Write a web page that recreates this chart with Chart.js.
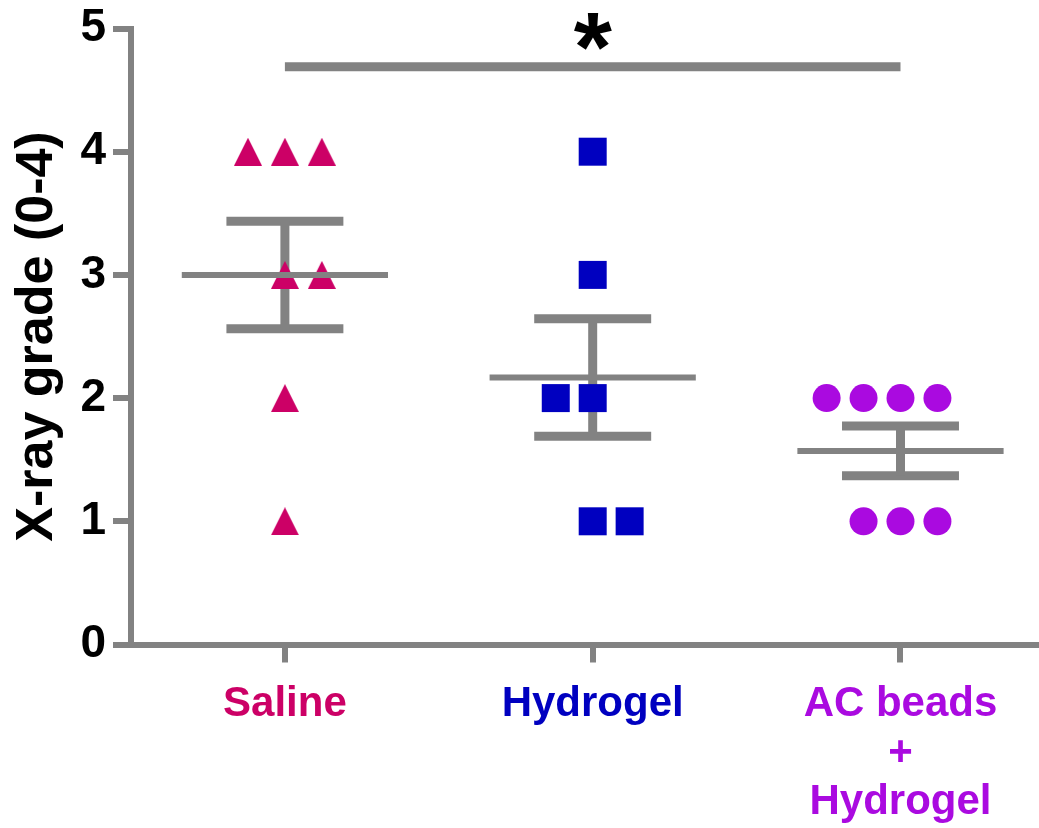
<!DOCTYPE html>
<html>
<head>
<meta charset="utf-8">
<script src="https://cdn.jsdelivr.net/npm/chart.js@4.4.1/dist/chart.umd.min.js"></script>
<style>
  html, body { margin: 0; padding: 0; background: #ffffff; overflow: hidden; }
  #chart { display: block; position: absolute; left: 0; top: 0; }
</style>
</head>
<body>
<canvas id="chart" width="1039" height="828"></canvas>
<script>
// Groups and their positions on the x axis
const categories = ['Saline', 'Hydrogel', ['AC beads', '+', 'Hydrogel']];
const categoryPos = [1, 2, 3];
const categoryColors = ['#cc0066', '#0000c0', '#aa0ae0'];

// Individual scores (x = group position with a small side offset for ties)
const salineX = [0.88, 1, 1.12, 1, 1.12, 1, 1];
const salineY = [4, 4, 4, 3, 3, 2, 1];
const hydrogelX = [2, 2, 1.88, 2, 2, 2.12];
const hydrogelY = [4, 3, 2, 2, 1, 1];
const acX = [2.76, 2.88, 3, 3.12, 2.88, 3, 3.12];
const acY = [2, 2, 2, 2, 1, 1, 1];

// Y axis
const yMin = 0;
const yMax = 5;
const yStep = 1;

// Significance bracket between Saline and AC beads + Hydrogel
const sigX = [1, 3];
const sigY = 4.69;
const sigLabel = '*';

const GRAY = '#828282';
const MEAN_HALF = 0.335;
const CAP_HALF = 0.19;

function mean(a) { return a.reduce((s, v) => s + v, 0) / a.length; }
function sem(a) {
  const m = mean(a);
  const v = a.reduce((s, x) => s + (x - m) * (x - m), 0) / (a.length - 1);
  return Math.sqrt(v / a.length);
}

// Filled triangle marker
function triangleMarker(color, w, h) {
  const c = document.createElement('canvas');
  c.width = w; c.height = h;
  const g = c.getContext('2d');
  g.fillStyle = color;
  g.beginPath();
  g.moveTo(w / 2, 0);
  g.lineTo(w, h);
  g.lineTo(0, h);
  g.closePath();
  g.fill();
  return c;
}

function seg(x1, y1, x2, y2, width, order) {
  return {
    type: 'line',
    data: [{ x: x1, y: y1 }, { x: x2, y: y2 }],
    borderColor: GRAY,
    borderWidth: width,
    borderCapStyle: 'butt',
    pointRadius: 0,
    pointHoverRadius: 0,
    fill: false,
    tension: 0,
    order: order
  };
}

const groups = [
  { xs: salineX, ys: salineY, pos: categoryPos[0] },
  { xs: hydrogelX, ys: hydrogelY, pos: categoryPos[1] },
  { xs: acX, ys: acY, pos: categoryPos[2] }
];

const datasets = [];

// mean lines (on top), error bars (behind markers)
groups.forEach(gr => {
  const m = mean(gr.ys);
  const e = sem(gr.ys);
  datasets.push(seg(gr.pos - MEAN_HALF, m, gr.pos + MEAN_HALF, m, 6, 0));
  datasets.push(seg(gr.pos, m - e, gr.pos, m + e, 9, 2));
  datasets.push(seg(gr.pos - CAP_HALF, m + e, gr.pos + CAP_HALF, m + e, 9, 2));
  datasets.push(seg(gr.pos - CAP_HALF, m - e, gr.pos + CAP_HALF, m - e, 9, 2));
});

datasets.push(seg(sigX[0], sigY, sigX[1], sigY, 9, 2));

function pts(xs, ys) { return xs.map((x, i) => ({ x: x, y: ys[i] })); }

datasets.push({
  type: 'scatter',
  data: pts(salineX, salineY),
  pointStyle: triangleMarker(categoryColors[0], 28, 28),
  pointRadius: 14,
  backgroundColor: categoryColors[0],
  borderWidth: 0,
  order: 1
});
datasets.push({
  type: 'scatter',
  data: pts(hydrogelX, hydrogelY),
  pointStyle: 'rect',
  pointRadius: 19.8,
  pointBackgroundColor: categoryColors[1],
  pointBorderWidth: 0,
  borderWidth: 0,
  order: 1
});
datasets.push({
  type: 'scatter',
  data: pts(acX, acY),
  pointStyle: 'circle',
  pointRadius: 14,
  pointBackgroundColor: categoryColors[2],
  pointBorderWidth: 0,
  borderWidth: 0,
  order: 1
});

// Asterisk above the significance bar
const sigPlugin = {
  id: 'sigLabel',
  afterDatasetsDraw(chart) {
    const { ctx, scales } = chart;
    const x = (scales.x.getPixelForValue(sigX[0]) + scales.x.getPixelForValue(sigX[1])) / 2;
    const y = scales.y.getPixelForValue(sigY);
    ctx.save();
    ctx.font = 'bold 98px "Liberation Sans", Arial, sans-serif';
    ctx.fillStyle = '#000000';
    ctx.textAlign = 'center';
    ctx.textBaseline = 'alphabetic';
    ctx.fillText(sigLabel, x, y + 14);
    ctx.restore();
  }
};

new Chart(document.getElementById('chart'), {
  type: 'scatter',
  data: { datasets: datasets },
  plugins: [sigPlugin],
  options: {
    responsive: false,
    devicePixelRatio: 1,
    animation: false,
    clip: false,
    layout: { autoPadding: false, padding: { top: 28.5, right: 0, bottom: 0, left: 0 } },
    plugins: {
      legend: { display: false },
      tooltip: { enabled: false },
      title: { display: false }
    },
    scales: {
      x: {
        type: 'linear',
        min: 0.5,
        max: 3.45,
        afterBuildTicks(scale) {
          scale.ticks = categoryPos.map(v => ({ value: v }));
        },
        afterFit(scale) {
          scale.height = 183.5;
          scale.paddingLeft = 0;
          scale.paddingRight = 0;
        },
        grid: {
          drawOnChartArea: false,
          drawTicks: true,
          tickLength: 18,
          tickWidth: 6,
          tickColor: GRAY,
          color: GRAY,
          lineWidth: 6
        },
        border: { display: true, color: GRAY, width: 6 },
        ticks: {
          autoSkip: false,
          maxRotation: 0,
          padding: 17,
          color: ctx => categoryColors[ctx.index] || '#000',
          font: { family: '"Liberation Sans", Arial, sans-serif', size: 42, weight: 'bold', lineHeight: 1.17 },
          callback: (value, index) => categories[index]
        }
      },
      y: {
        type: 'linear',
        min: yMin,
        max: yMax,
        afterFit(scale) {
          scale.width = 131;
          scale.paddingTop = 0;
          scale.paddingBottom = 0;
        },
        grid: {
          drawOnChartArea: false,
          drawTicks: true,
          tickLength: 18,
          tickWidth: 6,
          tickColor: GRAY,
          color: GRAY,
          lineWidth: 6
        },
        border: { display: true, color: GRAY, width: 6 },
        ticks: {
          stepSize: yStep,
          padding: 7,
          color: '#000000',
          font: { family: '"Liberation Sans", Arial, sans-serif', size: 46, weight: 'bold' }
        },
        title: {
          display: true,
          text: 'X-ray grade (0-4)',
          color: '#000000',
          padding: { top: 6, bottom: 0 },
          font: { family: '"Liberation Sans", Arial, sans-serif', size: 52, weight: 'bold' }
        }
      }
    }
  }
});
</script>
</body>
</html>
